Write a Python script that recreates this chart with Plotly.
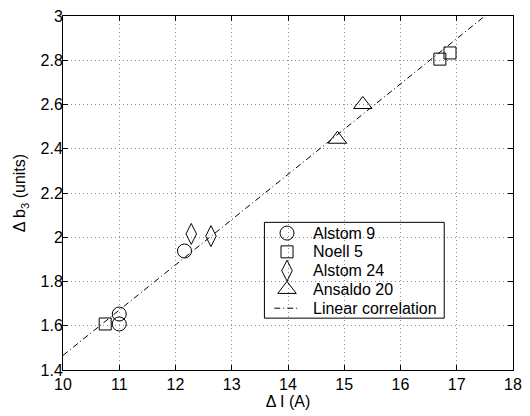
import plotly.graph_objects as go

# Measured current change (A) and b3 change (units) per magnet family
alstom9_current = [11.0, 11.0, 12.16]
alstom9_b3 = [1.653, 1.608, 1.938]

noell5_current = [10.75, 16.70, 16.88]
noell5_b3 = [1.608, 2.805, 2.833]

alstom24_current = [12.28, 12.63]
alstom24_b3 = [2.015, 2.005]

ansaldo20_current = [14.88, 15.33]
ansaldo20_b3 = [2.443, 2.600]

# Linear correlation line end points
fit_current = [10.0, 17.5]
fit_b3 = [1.466, 3.0]

x_ticks = list(range(10, 19))
y_ticks = [1.4, 1.6, 1.8, 2.0, 2.2, 2.4, 2.6, 2.8, 3.0]
y_tick_text = ["1.4", "1.6", "1.8", "2", "2.2", "2.4", "2.6", "2.8", "3"]

FONT = "Liberation Sans, Arial, Helvetica, sans-serif"
W, H = 530, 416
M_L, M_R, M_T, M_B = 63, 9, 8, 46
PLOT_W = W - M_L - M_R
PLOT_H = H - M_T - M_B


def px_to_paper_x(px):
    return (px - M_L) / PLOT_W


def px_to_paper_y(py):
    return (H - M_B - py) / PLOT_H


marker_line = dict(color="black", width=1)
line_style = dict(color="black", width=1, dash="6px,3px,1px,3px")

series = [
    ("Alstom 9", alstom9_current, alstom9_b3, dict(symbol="circle-open", size=14)),
    ("Noell 5", noell5_current, noell5_b3, dict(symbol="square-open", size=12)),
    ("Alstom 24", alstom24_current, alstom24_b3, dict(symbol="diamond-tall-open", size=15)),
    ("Ansaldo 20", ansaldo20_current, ansaldo20_b3, dict(symbol="triangle-up-open", size=16)),
]

fig = go.Figure()
for name, xs, ys, mk in series:
    fig.add_trace(go.Scatter(
        x=xs, y=ys, mode="markers", name=name, showlegend=False,
        marker=dict(color="black", line=marker_line, **mk)))
fig.add_trace(go.Scatter(
    x=fit_current, y=fit_b3, mode="lines", name="Linear correlation",
    showlegend=False, line=line_style))

# Boxed key drawn in the lower right of the axes (pixel layout)
LEG_LEFT, LEG_RIGHT, LEG_TOP, LEG_BOTTOM = 268, 451, 219, 317
ROW_FIRST, ROW_STEP = 230, 19.2
KEY_X, TEXT_X = 291, 315
KEY_LINE = (278, 304)

fig.add_shape(
    type="rect", xref="paper", yref="paper", layer="between",
    x0=px_to_paper_x(LEG_LEFT), x1=px_to_paper_x(LEG_RIGHT),
    y0=px_to_paper_y(LEG_BOTTOM), y1=px_to_paper_y(LEG_TOP),
    fillcolor="white", line=dict(color="black", width=1))

key_names = [s[0] for s in series] + ["Linear correlation"]
for i, name in enumerate(key_names):
    row_y = px_to_paper_y(ROW_FIRST + i * ROW_STEP)
    if i < len(series):
        fig.add_trace(go.Scatter(
            x=[px_to_paper_x(KEY_X)], y=[row_y], xaxis="x2", yaxis="y2",
            mode="markers", showlegend=False, hoverinfo="skip",
            marker=dict(color="black", line=marker_line, **series[i][3])))
    else:
        fig.add_trace(go.Scatter(
            x=[px_to_paper_x(KEY_LINE[0]), px_to_paper_x(KEY_LINE[1])],
            y=[row_y, row_y], xaxis="x2", yaxis="y2",
            mode="lines", showlegend=False, hoverinfo="skip", line=line_style))
    fig.add_annotation(
        x=px_to_paper_x(TEXT_X), y=row_y, xref="paper", yref="paper",
        text=name, showarrow=False, xanchor="left", yanchor="middle",
        font=dict(family=FONT, size=16, color="black"))

axis_common = dict(
    showline=True, linecolor="black", linewidth=1, mirror="ticks",
    ticks="inside", ticklen=5, tickcolor="black", tickwidth=1,
    showgrid=True, gridcolor="#8c8c8c", gridwidth=1, griddash="1px,3px",
    zeroline=False, tickfont=dict(family=FONT, size=16, color="black"),
)

fig.update_layout(
    width=W, height=H,
    margin=dict(l=M_L, r=M_R, t=M_T, b=M_B),
    paper_bgcolor="white", plot_bgcolor="white",
    font=dict(family=FONT, size=16, color="black"),
    showlegend=False,
    xaxis=dict(
        range=[10, 18], tickvals=x_ticks, ticktext=[str(v) for v in x_ticks],
        title=dict(text="\u0394 I (A)", font=dict(family=FONT, size=16), standoff=2),
        **axis_common,
    ),
    yaxis=dict(
        range=[1.4, 3.0], tickvals=y_ticks, ticktext=y_tick_text,
        ticklabelstandoff=-4,
        title=dict(text="\u0394 b<sub>3</sub> (units)", font=dict(family=FONT, size=16), standoff=10),
        **axis_common,
    ),
    xaxis2=dict(overlaying="x", range=[0, 1], visible=False, fixedrange=True),
    yaxis2=dict(overlaying="y", range=[0, 1], visible=False, fixedrange=True),
)

fig.write_html("out.html")
